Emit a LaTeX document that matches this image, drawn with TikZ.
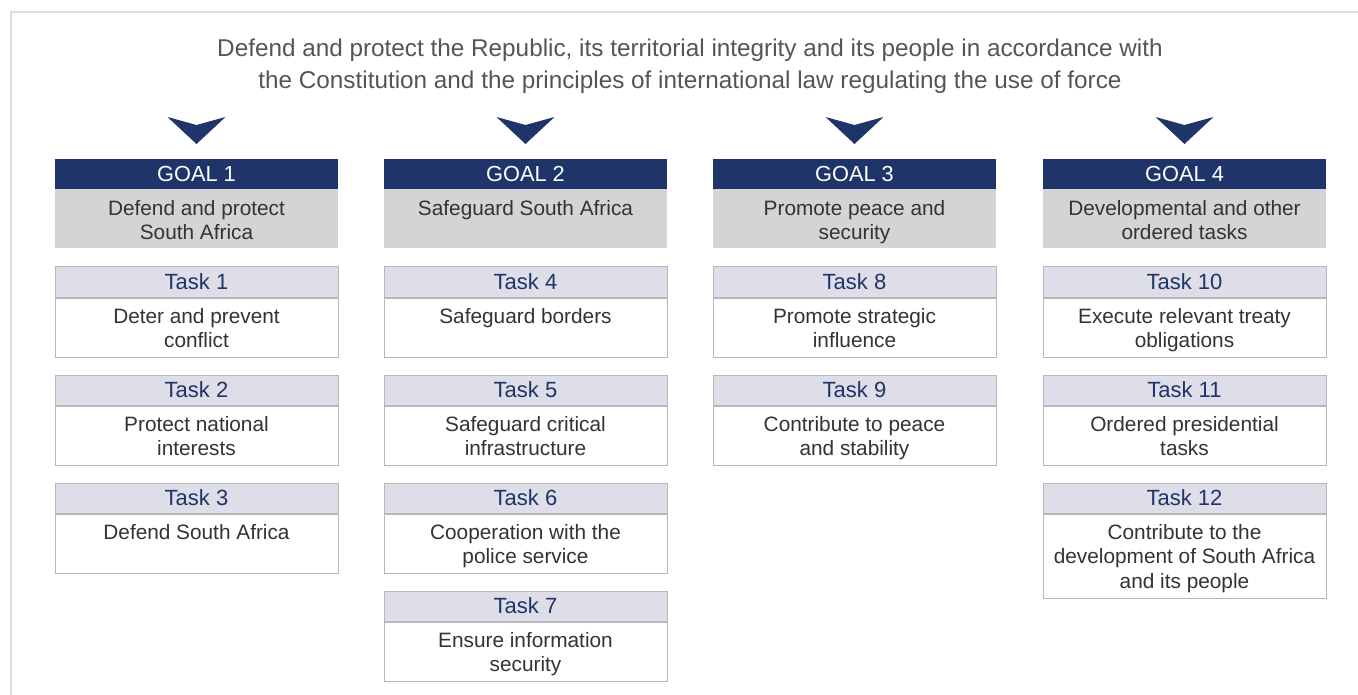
\documentclass[tikz,border=0pt]{standalone}
\usepackage{fontspec}
\setmainfont{Liberation Sans}
\definecolor{navy}{HTML}{1F3468}
\definecolor{goalfill}{HTML}{D4D4D6}
\definecolor{taskfill}{HTML}{DDDEE8}
\definecolor{boxline}{HTML}{B8B8BC}
\definecolor{bodytext}{HTML}{333333}
\definecolor{titletext}{HTML}{555555}
\definecolor{framegray}{HTML}{DCDCDC}
\tikzset{
  frameline/.style={draw=framegray, line width=2.5pt},
  chevron/.style={fill=navy},
  goalhead/.style={fill=navy, text=white, minimum width=283pt, minimum height=30pt, inner sep=0pt, font=\fontsize{21.8}{24}\selectfont},
  goalbox/.style={fill=goalfill, minimum width=283pt, minimum height=59pt, inner sep=0pt, anchor=north},
  taskhead/.style={draw=boxline, fill=taskfill, line width=1pt, minimum width=283pt, minimum height=30pt, inner sep=0pt, text=navy, font=\fontsize{22}{24}\selectfont},
  taskbody/.style={draw=boxline, fill=white, line width=1pt, minimum width=283pt, inner sep=0pt, anchor=north},
  boxtext/.style={anchor=north, align=center, text=bodytext, inner sep=0pt, yshift=-11pt, font=\fontsize{20.8}{24.2}\selectfont},
}
\newcommand\mkgoal[4]{% name, cx, number, text
  \fill[chevron] (#2-29,117) -- (#2,125) -- (#2+29,117) -- (#2,144) -- cycle;
  \node[goalhead] (#1h) at (#2,174) {GOAL #3};
  \node[goalbox] (#1b) at (#1h.south) {};
  \node[boxtext] (#1t) at (#1b.north) {#4};
}
\newcommand\mktask[6]{% name, cx, top, number, text, body height
  \node[taskhead] (#1h) at (#2,#3+15) {Task #4};
  \node[taskbody, minimum height=#6pt] (#1b) at (#1h.south) {};
  \node[boxtext] (#1t) at (#1b.north) {#5};
}
\begin{document}
\begin{tikzpicture}[x=1pt,y=-1pt]
\useasboundingbox (0,0) rectangle (1358,695);
\draw[frameline] (11,696) -- (11,12) -- (1359,12);
\node[anchor=north, inner sep=0pt, align=center, text=titletext, font=\fontsize{24.3}{31.6}\selectfont] (title) at (690,39)
  {Defend and protect the Republic, its territorial integrity and its people in accordance with\\
   the Constitution and the principles of international law regulating the use of force};
\mkgoal{g1}{196.5}{1}{Defend and protect\\South Africa}
\mkgoal{g2}{525.5}{2}{Safeguard South Africa}
\mkgoal{g3}{854.5}{3}{Promote peace and\\security}
\mkgoal{g4}{1184.5}{4}{Developmental and other\\ordered tasks}
\mktask{t1}{196.5}{267}{1}{Deter and prevent\\conflict}{59}
\mktask{t2}{196.5}{375}{2}{Protect national\\interests}{59}
\mktask{t3}{196.5}{483}{3}{Defend South Africa}{59}
\mktask{t4}{525.5}{267}{4}{Safeguard borders}{59}
\mktask{t5}{525.5}{375}{5}{Safeguard critical\\infrastructure}{59}
\mktask{t6}{525.5}{483}{6}{Cooperation with the\\police service}{59}
\mktask{t7}{525.5}{591}{7}{Ensure information\\security}{59}
\mktask{t8}{854.5}{267}{8}{Promote strategic\\influence}{59}
\mktask{t9}{854.5}{375}{9}{Contribute to peace\\and stability}{59}
\mktask{t10}{1184.5}{267}{10}{Execute relevant treaty\\obligations}{59}
\mktask{t11}{1184.5}{375}{11}{Ordered presidential\\tasks}{59}
\mktask{t12}{1184.5}{483}{12}{Contribute to the\\development of South Africa\\and its people}{84}
\end{tikzpicture}
\end{document}
